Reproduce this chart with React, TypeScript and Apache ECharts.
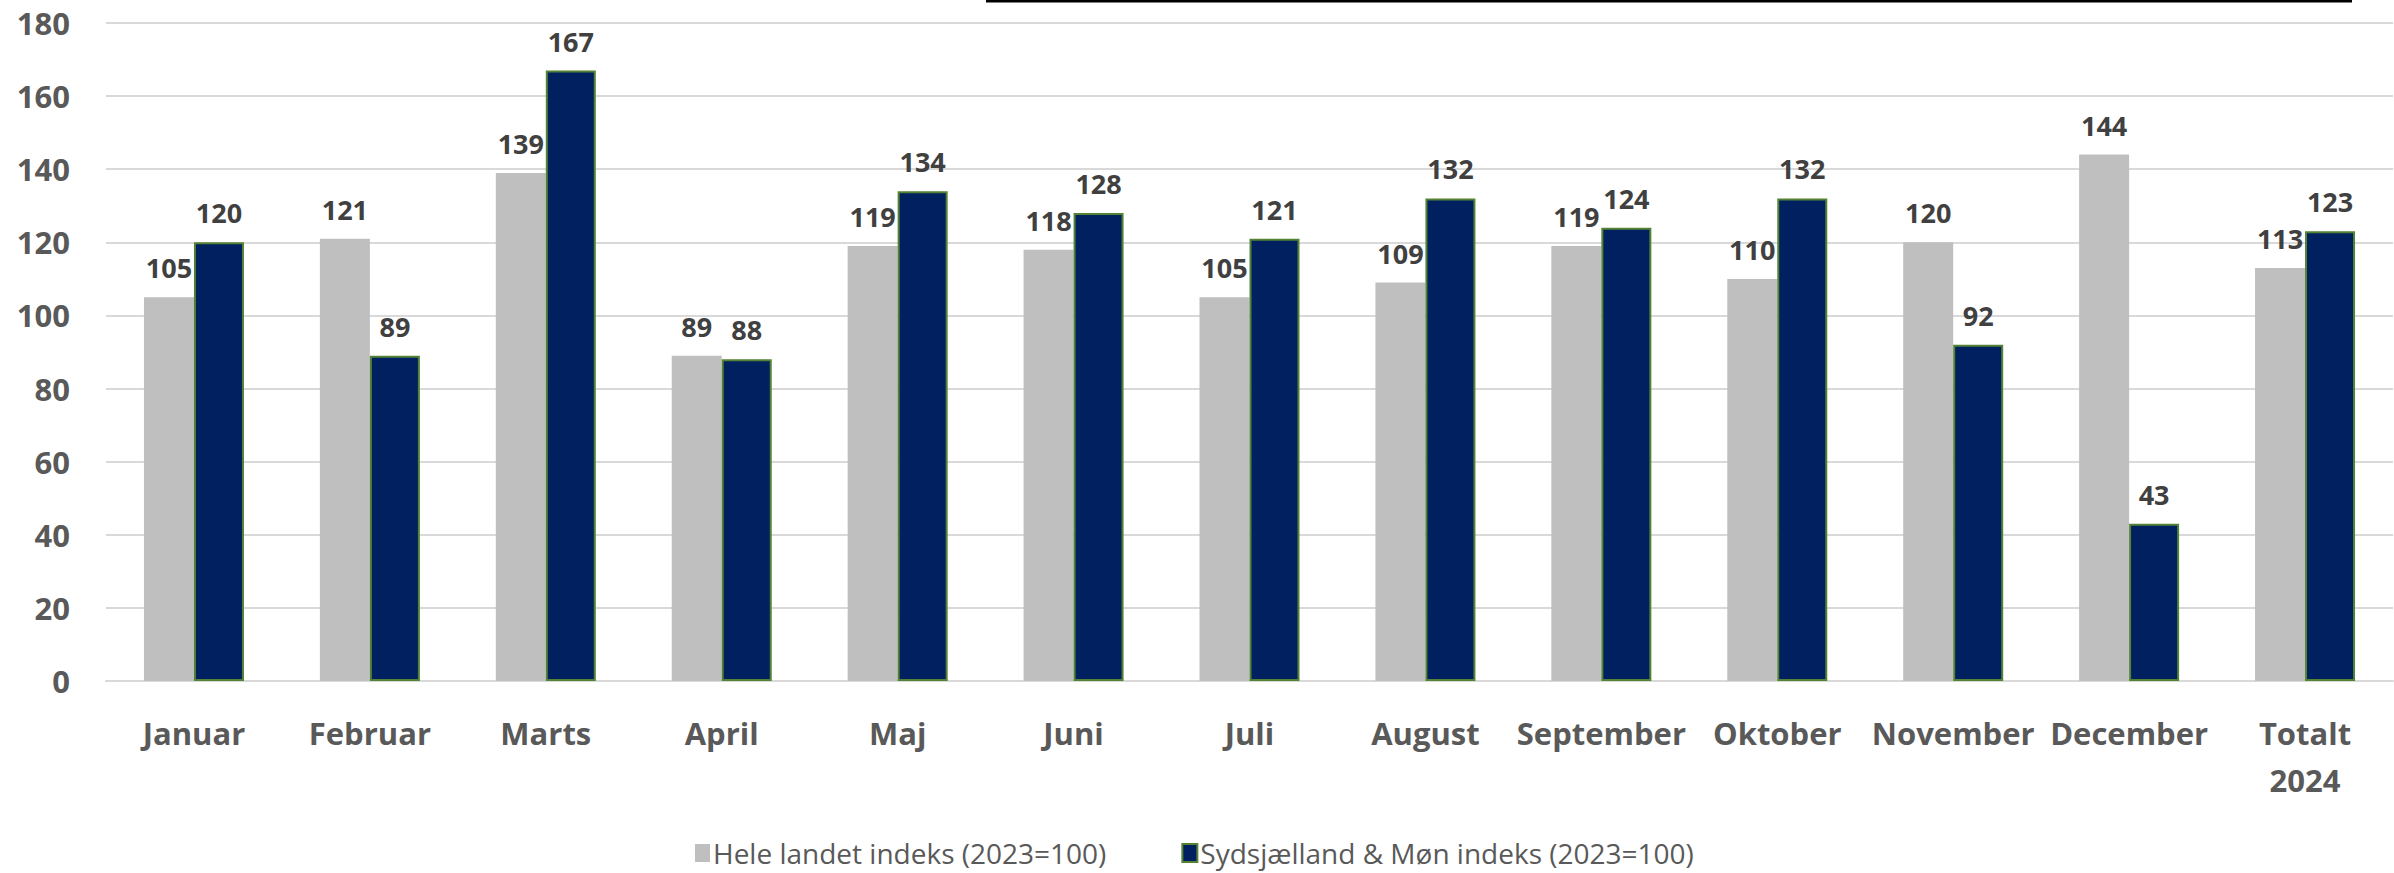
import React, { useEffect, useRef } from "react";
import * as echarts from "echarts";

const categories = ["Januar", "Februar", "Marts", "April", "Maj", "Juni", "Juli", "August", "September", "Oktober", "November", "December", "Totalt\n2024"];
const heleLandet = [105, 121, 139, 89, 119, 118, 105, 109, 119, 110, 120, 144, 113];
const sydsjaelland = [120, 89, 167, 88, 134, 128, 121, 132, 124, 132, 92, 43, 123];
const seriesNames = ["Hele landet indeks (2023=100)", "Sydsjælland & Møn indeks (2023=100)"];

export default function App() {
  const ref = useRef<HTMLDivElement>(null);
  useEffect(() => {
    if (!ref.current) return;
    const chart = echarts.init(ref.current, null, { renderer: "svg" });
    const labelStyle = {
      show: true,
      position: "top" as const,
      distance: 16,
      color: "#404040",
      fontFamily: "Open Sans",
      fontWeight: "bold" as const,
      fontSize: 27,
    };
    chart.setOption({
      animation: false,
      backgroundColor: "#ffffff",
      grid: { left: 106, right: 1, top: 23, bottom: 192, containLabel: false },
      legend: {
        left: 690,
        top: 834,
        itemWidth: 15,
        itemHeight: 18,
        itemGap: 75,
        icon: "rect",
        textStyle: { color: "#595959", fontFamily: "Open Sans", fontSize: 28, padding: [0, 0, 0, -2] },
        data: seriesNames,
      },
      xAxis: {
        type: "category",
        data: categories,
        axisLine: { lineStyle: { color: "#D9D9D9", width: 2 } },
        axisTick: { show: false },
        axisLabel: {
          color: "#595959",
          fontFamily: "Open Sans",
          fontWeight: "bold",
          fontSize: 31,
          margin: 28,
          lineHeight: 47,
          interval: 0,
        },
      },
      yAxis: {
        type: "value",
        min: 0,
        max: 180,
        interval: 20,
        axisLine: { show: false },
        axisTick: { show: false },
        splitLine: { lineStyle: { color: "#D9D9D9", width: 2 } },
        axisLabel: {
          color: "#595959",
          fontFamily: "Open Sans",
          fontWeight: "bold",
          fontSize: 31,
          margin: 36,
        },
      },
      series: [
        {
          name: seriesNames[0],
          type: "bar",
          data: heleLandet,
          barWidth: 50,
          barGap: "0%",
          itemStyle: { color: "#BFBFBF" },
          label: labelStyle,
        },
        {
          name: seriesNames[1],
          type: "bar",
          data: sydsjaelland,
          barWidth: 50,
          barGap: "0%",
          itemStyle: { color: "#002060", borderColor: "#548235", borderWidth: 2 },
          label: labelStyle,
        },
      ],
      graphic: [
        {
          type: "line",
          shape: { x1: 986, y1: 1, x2: 2352, y2: 1 },
          style: { stroke: "#000000", lineWidth: 3 },
        },
      ],
    });
    return () => chart.dispose();
  }, []);
  return <div ref={ref} style={{ position: "fixed", left: 0, top: 0, width: 2394, height: 873 }} />;
}
